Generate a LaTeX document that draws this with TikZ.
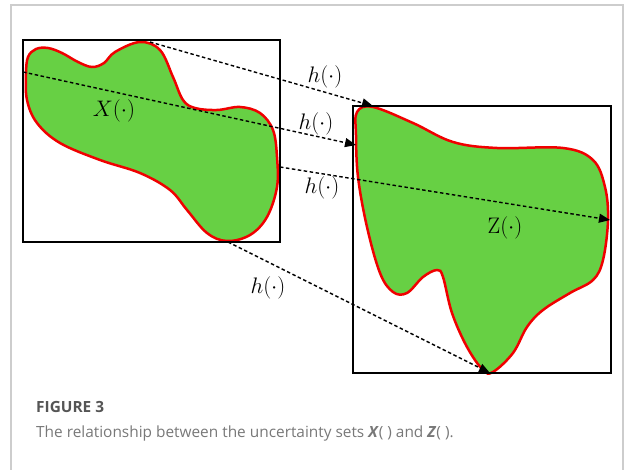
\documentclass[tikz,border=0pt]{standalone}
\usepackage{fontspec}
\setsansfont{Open Sans}
\usetikzlibrary{arrows.meta}
\definecolor{blobgreen}{RGB}{103,208,68}
\definecolor{blobred}{RGB}{240,0,0}
\definecolor{framegray}{RGB}{205,205,205}
\definecolor{capdark}{RGB}{85,85,85}
\definecolor{caplight}{RGB}{120,120,120}
\begin{document}
\begin{tikzpicture}[x=1pt,y=-1pt,
  blob/.style={draw=blobred,line width=2.5pt,fill=blobgreen},
  setbox/.style={draw=black,line width=2.8pt},
  map/.style={draw=black,line width=1.4pt,dash pattern=on 3.5pt off 2.5pt,-{Triangle[length=11pt,width=9pt]}},
  hlab/.style={font=\LARGE,scale=1.3},
  setlab/.style={font=\LARGE,scale=1.3}]
\useasboundingbox (0,0) rectangle (624,470);
% outer frame
\draw[framegray,line width=1.3pt] (11,475) -- (11,5) -- (623,5) -- (623,475);
% left set
\fill[blob] plot[smooth cycle,tension=0.6] coordinates {
 (26,74) (28,57) (36,49) (48,48) (62,53) (78,62) (92,67) (104,63) (115,52) (140,42)
 (160,50) (173,77) (183,100) (195,108) (217,110) (240,107) (260,113) (273,130)
 (277,157) (277,187) (267,217) (250,235) (227,241) (207,233) (187,210) (170,190)
 (140,173) (100,160) (60,143) (37,123) (27,100)};
\draw[setbox] (23,40) rectangle (280,242);
% right set
\fill[blob] plot[smooth cycle,tension=0.6] coordinates {
 (357,112) (373,107) (413,123) (453,142) (497,148) (563,148) (593,160) (605,187)
 (608,220) (603,260) (593,280) (570,293) (543,310) (527,327) (513,353) (493,372)
 (483,370) (467,347) (452,313) (443,277) (437,270) (423,277) (407,293) (393,292)
 (380,273) (367,227) (358,177) (356,135)};
\draw[setbox] (353,106) rectangle (611,373);
% mapping end points
\coordinate (s1) at (150,42);
\coordinate (e1) at (373,106);
\coordinate (s2) at (23,72);
\coordinate (e2) at (356,145);
\coordinate (s3) at (280,167);
\coordinate (e3) at (610,220);
\coordinate (s4) at (228,242);
\coordinate (e4) at (490,373);
\draw[map] (s1) -- (e1);
\draw[map] (s2) -- (e2);
\draw[map] (s3) -- (e3);
\draw[map] (s4) -- (e4);
% labels
\node[hlab] (h1) at (325,77) {$h(\cdot)$};
\node[hlab] (h2) at (316,124) {$h(\cdot)$};
\node[hlab] (h3) at (322,188) {$h(\cdot)$};
\node[hlab] (h4) at (268,288) {$h(\cdot)$};
\node[setlab] (xl) at (114,111) {$X(\cdot)$};
\node[setlab] (zl) at (505,228) {$\mathrm{Z}(\cdot)$};
% caption
\node[anchor=west,font=\sffamily\bfseries\fontsize{15.4}{18}\selectfont,text=capdark,inner sep=0pt] (fig) at (36,407) {FIGURE 3};
\node[anchor=west,font=\sffamily\fontsize{15.4}{18}\selectfont,text=caplight,inner sep=0pt] (cap) at (36,433) {The relationship between the uncertainty sets \textbf{\textit{X}}( ) and \textbf{\textit{Z}}( ).};
\end{tikzpicture}
\end{document}
